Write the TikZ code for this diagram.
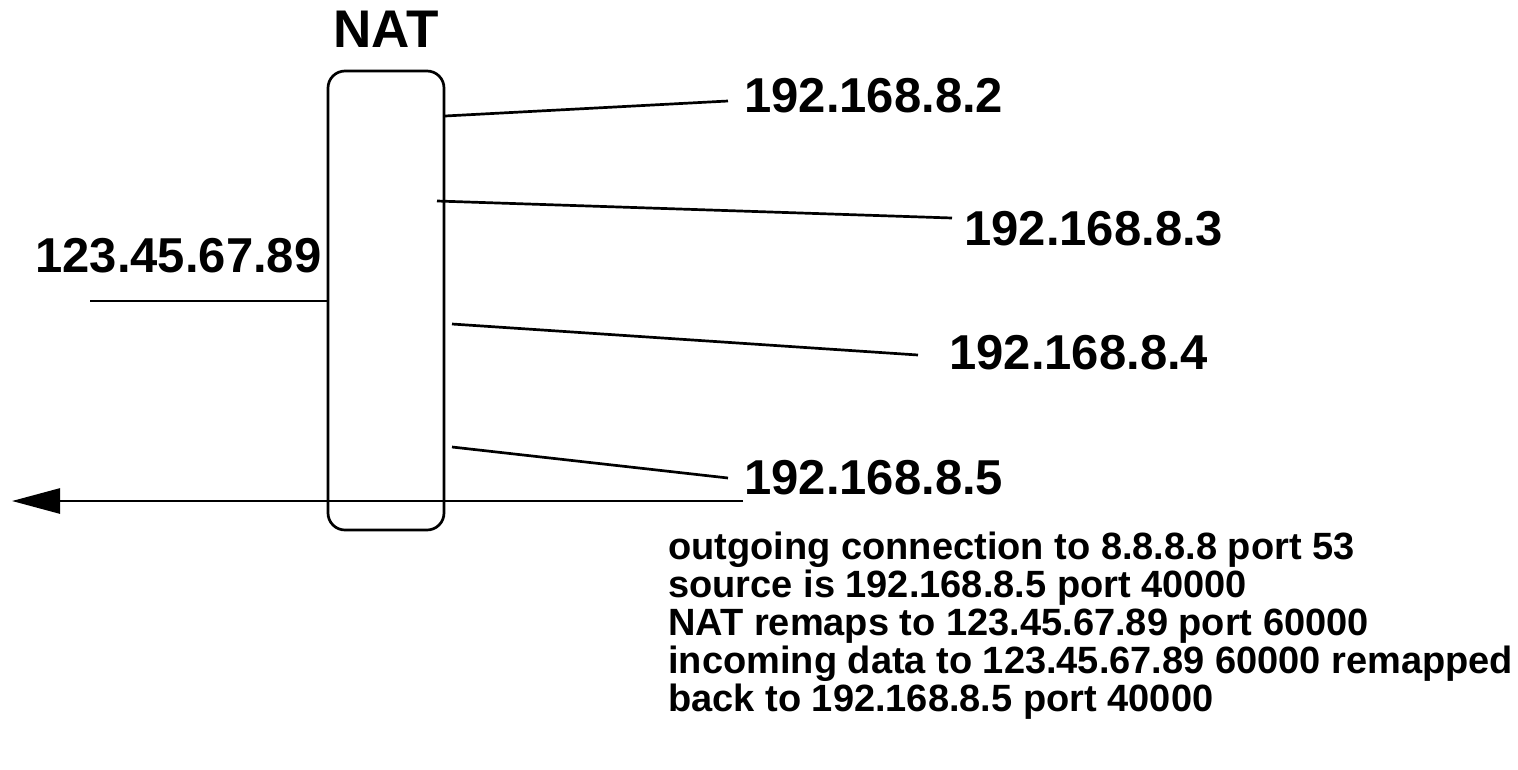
\documentclass[tikz,border=0pt]{standalone}
\usepackage{fontspec}
\setmainfont{Liberation Sans}
\usetikzlibrary{arrows.meta}
\begin{document}
\begin{tikzpicture}[x=1pt,y=-1pt,line width=2.7pt,
  big/.style={font=\fontsize{49}{49}\selectfont\bfseries,inner sep=0pt,anchor=base west},
  note/.style={font=\fontsize{38}{38}\selectfont\bfseries,inner sep=0pt,anchor=base west},
  wire/.style={line width=2.7pt}]
\useasboundingbox (0,0) rectangle (1518,769);
\node[draw,rounded corners=17pt,minimum width=116pt,minimum height=459pt,inner sep=0pt] (nat) at (386,300.5) {};
\node[big,anchor=base,font=\fontsize{53}{53}\selectfont\bfseries] (natlbl) at (386,47) {NAT};
\node[big] (ip2) at (743,112) {192.168.8.2};
\node[big] (ip3) at (963,245) {192.168.8.3};
\node[big] (ip4) at (948,369) {192.168.8.4};
\node[big] (ip5) at (743,494) {192.168.8.5};
\node[big] (pub) at (34,272) {123.45.67.89};
\coordinate (a2) at (445,116); \coordinate (b2) at (728,101);
\coordinate (a3) at (437,201); \coordinate (b3) at (952,218);
\coordinate (a4) at (452,324); \coordinate (b4) at (918,355);
\coordinate (a5) at (452,447); \coordinate (b5) at (728,478);
\coordinate (pl) at (90,301);
\coordinate (as) at (743,501); \coordinate (at) at (12,501);
\draw[wire] (a2) -- (b2);
\draw[wire] (a3) -- (b3);
\draw[wire] (a4) -- (b4);
\draw[wire] (a5) -- (b5);
\draw[wire] (pl) -- (nat.west |- pl);
\draw[wire,-{Triangle[length=48pt,width=25pt]}] (as) -- (at);
\node[note] (n1) at (667,559) {outgoing connection to 8.8.8.8 port 53};
\node[note] (n2) at (667,597) {source is 192.168.8.5 port 40000};
\node[note] (n3) at (667,635) {NAT remaps to 123.45.67.89 port 60000};
\node[note] (n4) at (667,673) {incoming data to 123.45.67.89 60000 remapped};
\node[note] (n5) at (667,711) {back to 192.168.8.5 port 40000};
\end{tikzpicture}
\end{document}
